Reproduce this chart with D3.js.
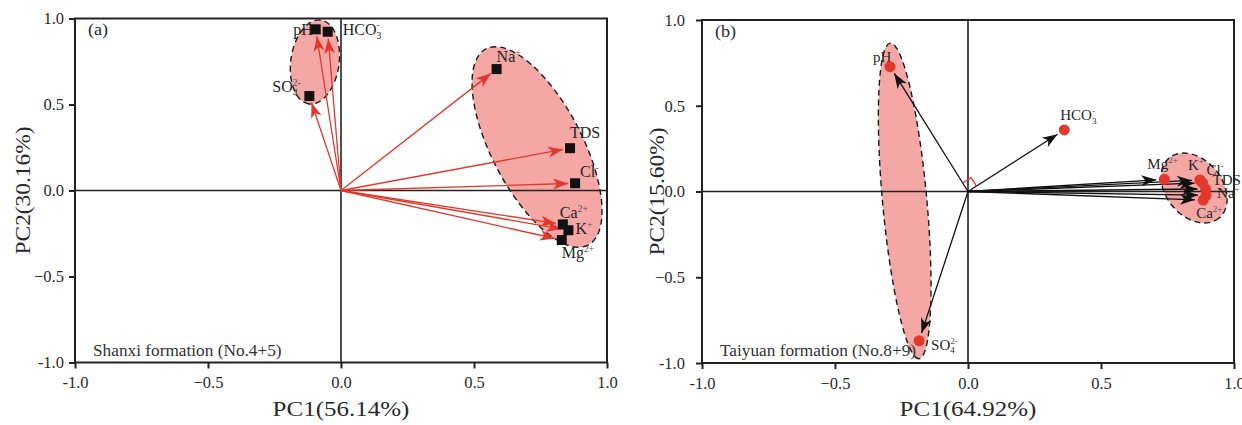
<!DOCTYPE html>
<html>
<head>
<meta charset="utf-8">
<script src="https://cdn.jsdelivr.net/npm/d3@7"></script>
<style>
  body { margin: 0; background: #fff; }
  svg { display: block; }
  text { font-family: "Liberation Serif", "Times New Roman", serif; }
</style>
</head>
<body>
<svg id="chart" width="1242" height="425"></svg>
<script>
// ---- Loadings: Shanxi formation (No.4+5) ----
const varsA = ["pH", "HCO3", "SO4", "Na", "TDS", "Cl", "Ca", "K", "Mg"];
const pc1A  = [-0.095, -0.050, -0.119, 0.585, 0.861, 0.880, 0.834, 0.855, 0.830];
const pc2A  = [ 0.937,  0.923,  0.549, 0.706, 0.246, 0.042, -0.197, -0.231, -0.288];

// ---- Loadings: Taiyuan formation (No.8+9) ----
const varsB = ["pH", "HCO3", "SO4", "Mg", "K", "Cl", "TDS", "Na", "Ca"];
const pc1B  = [-0.293, 0.362, -0.184, 0.738, 0.872, 0.882, 0.893, 0.895, 0.884];
const pc2B  = [ 0.728, 0.359, -0.870, 0.071, 0.067, 0.050, 0.015, -0.022, -0.050];

// ---- Group ellipses (data units): centre, end of major semi-axis, minor/major ratio ----
const ellipseCentreA = [[-0.098, 0.747], [0.737, 0.253]];
const ellipseEndA    = [[-0.120, 0.503], [0.929, -0.317]];
const ellipseRatioA  = [0.57, 0.41];
const ellipseCentreB = [[-0.238, -0.055], [0.850, 0.020]];
const ellipseEndB    = [[-0.184, -0.975], [0.944, -0.155]];
const ellipseRatioB  = [0.14, 0.72];

// ---- Axis ticks ----
const tickValues = [-1, -0.5, 0, 0.5, 1];
const tickLabels = ["-1.0", "\u22120.5", "0.0", "0.5", "1.0"];

// ---- Chemical label parts ----
const labelBase = { pH: "pH", HCO3: "HCO", SO4: "SO", Na: "Na", TDS: "TDS", Cl: "Cl", Ca: "Ca", K: "K", Mg: "Mg" };
const labelSub  = { HCO3: "3", SO4: "4" };
const labelSup  = { HCO3: "-", SO4: "2-", Na: "+", Cl: "-", Ca: "2+", K: "+", Mg: "2+" };

const svg = d3.select("#chart");
svg.append("rect").attr("width", 1242).attr("height", 425).attr("fill", "#fff");

const FILL = "#f4a7a5";
const RED = "#e3382c";
const INK = "#222";

// arrowheads
const defs = svg.append("defs");
function arrowMarker(id, color) {
  defs.append("marker")
    .attr("id", id)
    .attr("viewBox", "-16 -7 17 14")
    .attr("refX", 0).attr("refY", 0)
    .attr("markerWidth", 17).attr("markerHeight", 14)
    .attr("markerUnits", "userSpaceOnUse")
    .attr("orient", "auto")
    .append("path")
    .attr("d", "M0,0 L-15,-5.5 L-11,0 L-15,5.5 Z")
    .attr("fill", color);
}
arrowMarker("headRed", RED);
arrowMarker("headBlack", "#111");

// text drawn slightly widened, as in the figure's type
function wideText(g, x, y, str, size, stretch, anchor, rotate, fill) {
  return g.append("text")
    .attr("transform", `translate(${x},${y})${rotate ? ` rotate(${rotate})` : ""} scale(${stretch},1)`)
    .attr("text-anchor", anchor || "start")
    .attr("font-size", size)
    .attr("fill", fill || "#2a2a2a")
    .text(str);
}

function chemLabel(g, x, y, key, size, anchor) {
  const t = g.append("text")
    .attr("x", x).attr("y", y)
    .attr("font-size", size)
    .attr("fill", "#262626")
    .attr("text-anchor", anchor || "start");
  t.append("tspan").text(labelBase[key]);
  const sub = labelSub[key], sup = labelSup[key];
  const small = size * 0.6;
  if (sub) t.append("tspan").attr("font-size", small).attr("dy", size * 0.25).text(sub);
  if (sup) {
    const s = t.append("tspan").attr("font-size", small)
      .attr("fill", "#555")
      .attr("dy", sub ? -size * 0.25 - size * 0.4 : -size * 0.4);
    if (sub) s.attr("dx", -small * 0.5 * sub.length);
    s.text(sup);
  }
}

function drawPanel(cfg) {
  const x = d3.scaleLinear().domain([-1, 1]).range([cfg.left, cfg.right]);
  const y = d3.scaleLinear().domain([-1, 1]).range([cfg.bottom, cfg.top]);
  const g = svg.append("g");

  // ellipses
  cfg.eCentre.forEach((c, i) => {
    const cx = x(c[0]), cy = y(c[1]);
    const ex = x(cfg.eEnd[i][0]), ey = y(cfg.eEnd[i][1]);
    const a = Math.hypot(ex - cx, ey - cy);
    const ang = Math.atan2(ey - cy, ex - cx) * 180 / Math.PI;
    g.append("ellipse")
      .attr("cx", 0).attr("cy", 0)
      .attr("rx", a).attr("ry", a * cfg.eRatio[i])
      .attr("transform", `translate(${cx},${cy}) rotate(${ang})`)
      .attr("fill", FILL)
      .attr("stroke", "#1a1a1a")
      .attr("stroke-width", 1.4)
      .attr("stroke-dasharray", "6,4");
  });

  // zero lines
  g.append("line").attr("x1", x(0)).attr("x2", x(0)).attr("y1", y(1)).attr("y2", y(-1))
    .attr("stroke", INK).attr("stroke-width", 1.6);
  g.append("line").attr("x1", x(-1)).attr("x2", x(1)).attr("y1", y(0)).attr("y2", y(0))
    .attr("stroke", INK).attr("stroke-width", 1.6);

  // frame
  g.append("rect")
    .attr("x", x(-1)).attr("y", y(1))
    .attr("width", x(1) - x(-1)).attr("height", y(-1) - y(1))
    .attr("fill", "none").attr("stroke", INK).attr("stroke-width", 2);

  // axes
  const fmt = (d) => tickLabels[tickValues.indexOf(d)];
  const ax = g.append("g").attr("transform", `translate(0,${y(-1)})`)
    .call(d3.axisBottom(x).tickValues(tickValues).tickFormat(fmt).tickSize(6).tickPadding(8));
  const ay = g.append("g").attr("transform", `translate(${x(-1)},0)`)
    .call(d3.axisLeft(y).tickValues(tickValues).tickFormat(fmt).tickSize(6).tickPadding(cfg.yPad));
  [ax, ay].forEach(a => {
    a.select(".domain").remove();
    a.selectAll(".tick line").attr("stroke", INK).attr("stroke-width", 2);
    a.selectAll(".tick text").attr("font-size", 16.5).attr("fill", "#2a2a2a")
      .attr("font-family", '"Liberation Serif", serif');
  });

  // axis titles
  wideText(g, x(0), 416, cfg.xTitle, 20.5, 1.22, "middle");
  wideText(g, cfg.yTitleX, (y(1) + y(-1)) / 2, cfg.yTitle, 20.5, 1.14, "middle", -90);

  // panel tag and formation name
  wideText(g, cfg.tag[1], cfg.tag[2], cfg.tag[0], 16.5, 1.1, "start");
  wideText(g, x(-1) + 18, y(-1) - 7, cfg.formation, 16, 1.08, "start", 0, "#333");

  // loading vectors
  const ox = x(0), oy = y(0);
  const pts = cfg.vars.map((v, i) => ({ v, px: x(cfg.pc1[i]), py: y(cfg.pc2[i]) }));
  pts.forEach(p => {
    const dx = p.px - ox, dy = p.py - oy, len = Math.hypot(dx, dy);
    const k = (len - cfg.gap) / len;
    g.append("line")
      .attr("x1", ox).attr("y1", oy)
      .attr("x2", ox + dx * k).attr("y2", oy + dy * k)
      .attr("stroke", cfg.arrowColor).attr("stroke-width", 1.3)
      .attr("marker-end", `url(#${cfg.marker})`);
  });

  // right-angle sign between two loading vectors
  if (cfg.rightAngle) {
    const a = pts.find(p => p.v === cfg.rightAngle[0]);
    const b = pts.find(p => p.v === cfg.rightAngle[1]);
    const ua = [(a.px - ox), (a.py - oy)], ub = [(b.px - ox), (b.py - oy)];
    const la = Math.hypot(...ua), lb = Math.hypot(...ub), L = 10;
    const p1 = [ox + ua[0] / la * L, oy + ua[1] / la * L];
    const p2 = [ox + ub[0] / lb * L, oy + ub[1] / lb * L];
    const pc = [p1[0] + ub[0] / lb * L, p1[1] + ub[1] / lb * L];
    g.append("path").attr("d", `M${p1}L${pc}L${p2}`)
      .attr("fill", "none").attr("stroke", RED).attr("stroke-width", 1.3);
  }

  // labels
  pts.forEach(p => {
    const o = cfg.labelOffset[p.v];
    chemLabel(g, p.px + o[0], p.py + o[1], p.v, cfg.labelSize, o[2]);
  });

  // markers
  pts.forEach(p => {
    if (cfg.shape === "square") {
      g.append("rect").attr("x", p.px - 5).attr("y", p.py - 5)
        .attr("width", 10).attr("height", 10).attr("fill", "#111");
    } else {
      g.append("circle").attr("cx", p.px).attr("cy", p.py).attr("r", 5.5).attr("fill", RED);
    }
  });
}

drawPanel({
  left: 75, right: 607, top: 18.5, bottom: 362.5,
  vars: varsA, pc1: pc1A, pc2: pc2A,
  eCentre: ellipseCentreA, eEnd: ellipseEndA, eRatio: ellipseRatioA,
  xTitle: "PC1(56.14%)", yTitle: "PC2(30.16%)", yTitleX: 30, yPad: 5,
  tag: ["(a)", 88, 35], formation: "Shanxi formation (No.4+5)",
  arrowColor: RED, marker: "headRed", gap: 7, shape: "square", labelSize: 16,
  labelOffset: {
    pH: [-3, 6, "end"], HCO3: [15, 3], SO4: [-37, -4], Na: [0, -7], TDS: [0, -10],
    Cl: [5, -6], Ca: [-3, -6], K: [7, 4], Mg: [0, 18]
  }
});

drawPanel({
  left: 702, right: 1234, top: 20, bottom: 363,
  vars: varsB, pc1: pc1B, pc2: pc2B,
  eCentre: ellipseCentreB, eEnd: ellipseEndB, eRatio: ellipseRatioB,
  xTitle: "PC1(64.92%)", yTitle: "PC2(15.60%)", yTitleX: 664, yPad: 11,
  tag: ["(b)", 715, 37], formation: "Taiyuan formation (No.8+9)",
  arrowColor: "#111", marker: "headBlack", gap: 8, shape: "circle", labelSize: 15,
  rightAngle: ["pH", "HCO3"],
  labelOffset: {
    pH: [-17, -5], HCO3: [-4, -10], SO4: [12, 9], Mg: [-17, -10], K: [-12, -10],
    Cl: [4, -8], TDS: [7, -4], Na: [11, 3], Ca: [-7, 18]
  }
});
</script>
</body>
</html>
